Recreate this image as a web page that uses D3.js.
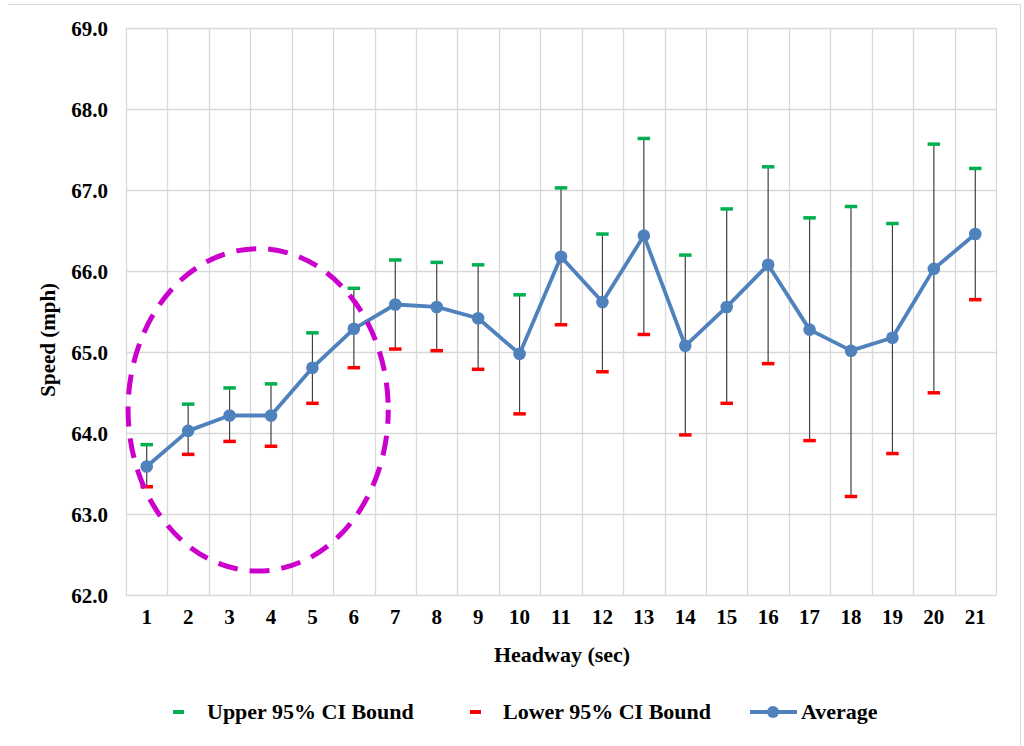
<!DOCTYPE html>
<html>
<head>
<meta charset="utf-8">
<script src="https://cdn.jsdelivr.net/npm/d3@7"></script>
<style>
  html, body { margin: 0; padding: 0; background: #fff; }
  svg { display: block; }
</style>
</head>
<body>
<svg id="chart" width="1024" height="746"></svg>
<script>
const headway = [1,2,3,4,5,6,7,8,9,10,11,12,13,14,15,16,17,18,19,20,21];
const average = [63.59,64.03,64.22,64.22,64.81,65.29,65.59,65.56,65.42,64.98,66.18,65.62,66.44,65.08,65.56,66.08,65.28,65.02,65.18,66.03,66.46];
const upper   = [63.86,64.36,64.56,64.61,65.24,65.79,66.14,66.11,66.08,65.71,67.03,66.46,67.64,66.20,66.77,67.29,66.66,66.80,66.59,67.57,67.27];
const lower   = [63.34,63.74,63.90,63.84,64.37,64.81,65.04,65.02,64.79,64.24,65.34,64.76,65.22,63.98,64.37,64.86,63.91,63.22,63.75,64.50,65.65];
const yTicks  = [62,63,64,65,66,67,68,69];
const legendLabels = ["Upper 95% CI Bound", "Lower 95% CI Bound", "Average"];
// Highlight ellipse (data units): centre headway, centre speed, half-width (headway), half-height (speed)
const highlight = [3.69, 64.29, 3.14, 1.99];

const FONT = "'Liberation Serif', 'Times New Roman', Times, serif";
const svg = d3.select("#chart");
const plot = {left: 126, right: 996, top: 28.3, bottom: 595.3};

const x = d3.scaleBand().domain(headway).range([plot.left, plot.right]).padding(0);
const xl = d3.scaleLinear().domain([0.5, 21.5]).range([plot.left, plot.right]);
const y = d3.scaleLinear().domain([62, 69]).range([plot.bottom, plot.top]);
const cx = d => x(d) + x.bandwidth() / 2;

function styleText(sel, size) {
  sel.attr("font-family", FONT).attr("font-weight", "bold").attr("font-size", size).attr("fill", "#000")
     .style("font-family", FONT).style("font-weight", "bold").style("font-size", size + "px");
}

// outer chart border (top and right visible)
svg.append("line").attr("x1", 8).attr("x2", 1020.5).attr("y1", 4.5).attr("y2", 4.5).attr("stroke", "#d9d9d9").attr("stroke-width", 1);
svg.append("line").attr("x1", 1020.5).attr("x2", 1020.5).attr("y1", 4.5).attr("y2", 746).attr("stroke", "#d9d9d9").attr("stroke-width", 1);

// gridlines
const grid = svg.append("g");
grid.selectAll("line.h").data(yTicks).join("line")
  .attr("x1", plot.left).attr("x2", plot.right)
  .attr("y1", d => Math.round(y(d)) + 0.5).attr("y2", d => Math.round(y(d)) + 0.5)
  .attr("stroke", "#d9d9d9").attr("stroke-width", 1.3);
const vb = headway.map(d => x(d)).concat([plot.right]);
grid.selectAll("line.v").data(vb).join("line")
  .attr("x1", d => Math.round(d) + 0.5).attr("x2", d => Math.round(d) + 0.5)
  .attr("y1", plot.top).attr("y2", plot.bottom)
  .attr("stroke", "#d9d9d9").attr("stroke-width", 1.3);

// y axis
const yAxis = svg.append("g").attr("transform", `translate(${plot.left},0)`)
  .call(d3.axisLeft(y).tickValues(yTicks).tickFormat(d3.format(".1f")).tickSize(0).tickPadding(18));
yAxis.select(".domain").remove();
yAxis.attr("font-family", FONT);
styleText(yAxis.selectAll("text"), 21);

// x axis
const xAxis = svg.append("g").attr("transform", `translate(0,${plot.bottom})`)
  .call(d3.axisBottom(x).tickSize(0).tickPadding(14));
xAxis.select(".domain").remove();
xAxis.attr("font-family", FONT);
styleText(xAxis.selectAll("text"), 21);

// axis titles
styleText(svg.append("text").attr("x", 562).attr("y", 662)
  .attr("text-anchor", "middle").text("Headway (sec)"), 22);
styleText(svg.append("text").attr("transform", `translate(55,${(plot.top + plot.bottom) / 2 + 28}) rotate(-90)`)
  .attr("text-anchor", "middle").text("Speed (mph)"), 21);

// error bars
const idx = d3.range(headway.length);
svg.append("g").selectAll("line").data(idx).join("line")
  .attr("x1", i => cx(headway[i])).attr("x2", i => cx(headway[i]))
  .attr("y1", i => y(upper[i])).attr("y2", i => y(lower[i]))
  .attr("stroke", "#404040").attr("stroke-width", 1.2);

const capW = 12.5, capH = 3.5;
svg.append("g").selectAll("rect").data(idx).join("rect")
  .attr("x", i => cx(headway[i]) - capW / 2).attr("y", i => y(upper[i]) - capH / 2)
  .attr("width", capW).attr("height", capH).attr("fill", "#00b050");
svg.append("g").selectAll("rect").data(idx).join("rect")
  .attr("x", i => cx(headway[i]) - capW / 2).attr("y", i => y(lower[i]) - capH / 2)
  .attr("width", capW).attr("height", capH).attr("fill", "#ff0000");

// average line
const blue = "#4f81bd";
svg.append("path").datum(idx)
  .attr("d", d3.line().x(i => cx(headway[i])).y(i => y(average[i])))
  .attr("fill", "none").attr("stroke", blue).attr("stroke-width", 3.8).attr("stroke-linejoin", "round");
svg.append("g").selectAll("circle").data(idx).join("circle")
  .attr("cx", i => cx(headway[i])).attr("cy", i => y(average[i])).attr("r", 6.3).attr("fill", blue);

// highlight ellipse
svg.append("ellipse")
  .attr("cx", xl(highlight[0])).attr("cy", y(highlight[1]))
  .attr("rx", xl(highlight[0] + highlight[2]) - xl(highlight[0]))
  .attr("ry", y(highlight[1] - highlight[3]) - y(highlight[1]))
  .attr("fill", "none").attr("stroke", "#cc00cc").attr("stroke-width", 5)
  .attr("stroke-dasharray", "20 12").attr("stroke-dashoffset", 6);

// legend
const lg = svg.append("g");
const ly = 712;
lg.append("rect").attr("x", 173).attr("y", ly - 2).attr("width", 11).attr("height", 4).attr("fill", "#00b050");
styleText(lg.append("text").attr("x", 207).attr("y", ly + 7).text(legendLabels[0]), 22);
lg.append("rect").attr("x", 470).attr("y", ly - 2).attr("width", 11).attr("height", 4).attr("fill", "#ff0000");
styleText(lg.append("text").attr("x", 503).attr("y", ly + 7).text(legendLabels[1]), 22);
lg.append("line").attr("x1", 750).attr("x2", 797).attr("y1", ly).attr("y2", ly).attr("stroke", blue).attr("stroke-width", 3.8);
lg.append("circle").attr("cx", 773).attr("cy", ly).attr("r", 6).attr("fill", blue);
styleText(lg.append("text").attr("x", 801).attr("y", ly + 7).text(legendLabels[2]), 22);
</script>
</body>
</html>
